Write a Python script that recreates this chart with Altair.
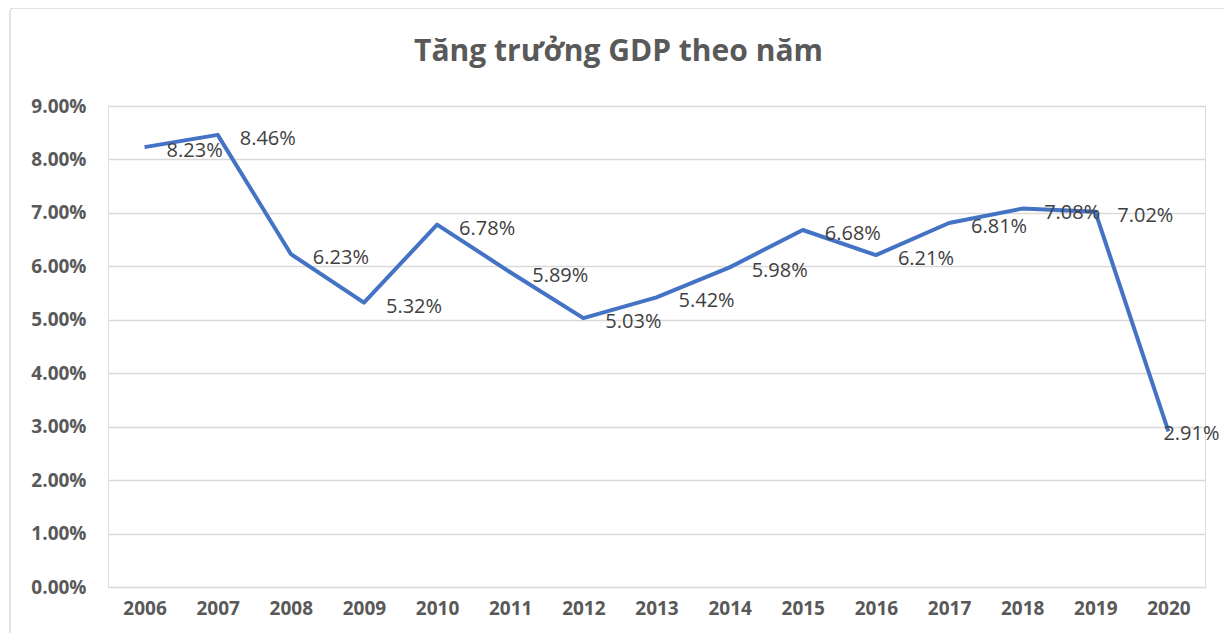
import altair as alt
import pandas as pd

years = ["2006", "2007", "2008", "2009", "2010", "2011", "2012", "2013",
         "2014", "2015", "2016", "2017", "2018", "2019", "2020"]
growth = [8.23, 8.46, 6.23, 5.32, 6.78, 5.89, 5.03, 5.42,
          5.98, 6.68, 6.21, 6.81, 7.08, 7.02, 2.91]
y_ticks = [0, 1, 2, 3, 4, 5, 6, 7, 8, 9]
title_text = "Tăng trưởng GDP theo năm"

df = pd.DataFrame({"year": years, "growth": [g / 100 for g in growth]})
df["label"] = [f"{g:.2f}%" for g in growth]

FONT = "Open Sans"
W, H = 1097, 481

x_enc = alt.X("year:N", sort=years,
              scale=alt.Scale(type="point", padding=0.5),
              axis=alt.Axis(title=None, labelAngle=0, domain=False, ticks=False,
                            labelPadding=12, labelFont=FONT, labelFontSize=19,
                            labelFontWeight="bold", labelColor="#595959"))
y_enc = alt.Y("growth:Q",
              scale=alt.Scale(domain=[0, 0.09], nice=False),
              axis=alt.Axis(title=None, values=[t / 100 for t in y_ticks], format=".2%",
                            domain=False, ticks=False, labelPadding=22,
                            labelFont=FONT, labelFontSize=19, labelFontWeight="bold",
                            labelColor="#595959", grid=True, gridColor="#d9d9d9",
                            gridWidth=1.5))

border = alt.Chart(alt.Data(values=[{}])).mark_rect(
    fillOpacity=0, stroke="#d9d9d9", strokeWidth=1.5, cornerRadius=4, clip=False
).encode(x=alt.value(-98), x2=alt.value(1121), y=alt.value(-98), y2=alt.value(545))

base = alt.Chart(df)
line = base.mark_line(color="#4472C4", strokeWidth=4, strokeJoin="round").encode(x=x_enc, y=y_enc)
text_main = base.transform_filter(alt.datum.year != "2020").mark_text(
    align="left", baseline="middle", dx=22, dy=4, font=FONT,
    fontSize=20, color="#404040").encode(
    x=alt.X("year:N", sort=years), y="growth:Q", text="label:N")
text_last = base.transform_filter(alt.datum.year == "2020").mark_text(
    align="left", baseline="middle", dx=-5, dy=3, font=FONT,
    fontSize=20, color="#404040").encode(
    x=alt.X("year:N", sort=years), y="growth:Q", text="label:N")

chart = alt.layer(border, line, text_main, text_last).properties(
    width=W, height=H,
    title=alt.TitleParams(title_text, font=FONT, fontSize=30, fontWeight="bold",
                          color="#595959", anchor="middle", dx=-38, offset=-84,
                          baseline="alphabetic"),
    autosize=alt.AutoSizeParams(type="none"),
    padding={"left": 100, "top": 98, "right": 19, "bottom": 46},
).configure_view(stroke=None).configure(background="white")

chart.save("out.html", embed_options={"renderer": "svg", "actions": False})
